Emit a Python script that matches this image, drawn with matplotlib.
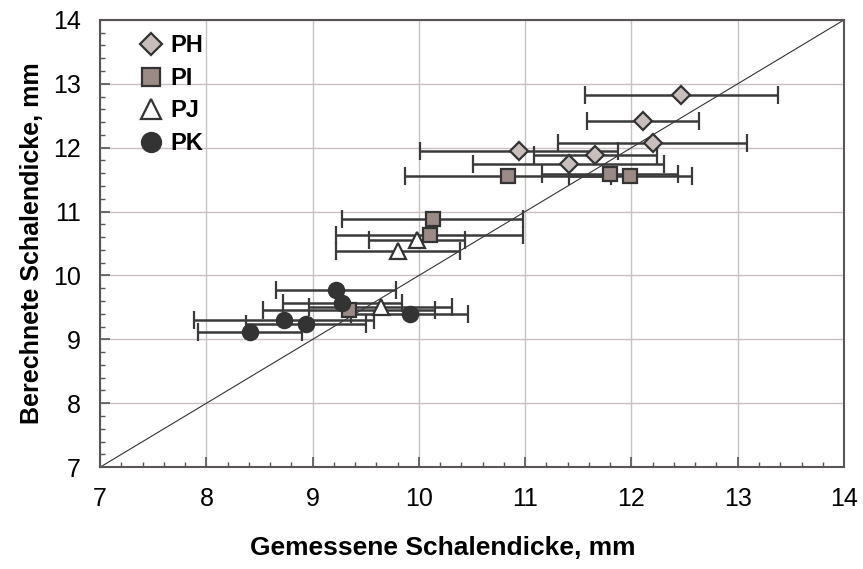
import matplotlib
matplotlib.use("Agg")
import matplotlib.pyplot as plt
from matplotlib.ticker import MultipleLocator

plt.rcParams['font.family'] = ['Liberation Sans', 'DejaVu Sans']

# Data (measured vs calculated shell thickness, mm)
PH_x = [12.47, 12.11, 12.20, 10.94, 11.66, 11.41]
PH_y = [12.83, 12.42, 12.07, 11.95, 11.88, 11.75]
PH_xerr = [0.91, 0.53, 0.89, 0.93, 0.58, 0.90]

PI_x = [10.84, 11.80, 11.99, 10.13, 10.10, 9.34]
PI_y = [11.56, 11.59, 11.56, 10.88, 10.64, 9.46]
PI_xerr = [0.97, 0.64, 0.58, 0.85, 0.88, 0.81]

PJ_x = [9.98, 9.80, 9.64]
PJ_y = [10.55, 10.39, 9.51]
PJ_xerr = [0.45, 0.585, 0.67]

PK_x = [9.22, 9.28, 9.915, 8.73, 8.935, 8.41]
PK_y = [9.78, 9.57, 9.39, 9.30, 9.24, 9.12]
PK_xerr = [0.565, 0.56, 0.55, 0.85, 0.565, 0.49]

labels = ['PH', 'PI', 'PJ', 'PK']
diag = [7, 14]

fig = plt.figure(figsize=(8.63, 5.69), dpi=100)
ax = fig.add_axes([0.116, 0.179, 0.862, 0.786])

ax.set_xlim(7, 14)
ax.set_ylim(7, 14)

ax.grid(True, which='major', color='#c9c0c0', linewidth=1.0, zorder=0)
ax.plot(diag, diag, color='#333333', linewidth=0.8, zorder=2)

ecol = '#3a3a3a'
common = dict(linestyle='none', ecolor=ecol, elinewidth=1.8, capsize=6.5,
              capthick=1.8, markeredgecolor='#333333', markeredgewidth=1.6)

c1 = ax.errorbar(PH_x, PH_y, xerr=PH_xerr, marker='D', markersize=9,
                 markerfacecolor='#c8bfbc', zorder=3, **common)
c2 = ax.errorbar(PI_x, PI_y, xerr=PI_xerr, marker='s', markersize=10.5,
                 markerfacecolor='#9b8a86', zorder=3, **common)
c3 = ax.errorbar(PJ_x, PJ_y, xerr=PJ_xerr, marker='^', markersize=12,
                 markerfacecolor='white', zorder=3, **common)
c4 = ax.errorbar(PK_x, PK_y, xerr=PK_xerr, marker='o', markersize=11,
                 markerfacecolor='#333333', zorder=3, **common)

ax.xaxis.set_major_locator(MultipleLocator(1))
ax.yaxis.set_major_locator(MultipleLocator(1))
ax.xaxis.set_minor_locator(MultipleLocator(0.2))
ax.yaxis.set_minor_locator(MultipleLocator(0.2))
ax.tick_params(which='major', direction='in', length=7, width=1.2,
               color='#555555', labelsize=18, pad=14)
ax.tick_params(which='minor', direction='in', length=3.5, width=1.0,
               color='#555555')

for s in ax.spines.values():
    s.set_color('#5a5555')
    s.set_linewidth(1.5)

ax.set_xlabel('Gemessene Schalendicke, mm', fontsize=19, fontweight='bold')
ax.xaxis.set_label_coords(0.46, -0.155)
ax.set_ylabel('Berechnete Schalendicke, mm', fontsize=18, fontweight='bold',
              labelpad=6)

handles = [c[0] for c in (c1, c2, c3, c4)]
leg = ax.legend(handles, labels, loc='upper left', bbox_to_anchor=(0.024, 1.015),
                frameon=False, numpoints=1, handlelength=1.0, markerscale=1.25,
                handletextpad=0.3, labelspacing=0.4,
                prop={'weight': 'bold', 'size': 17})

fig.savefig('out.png', dpi=100)
